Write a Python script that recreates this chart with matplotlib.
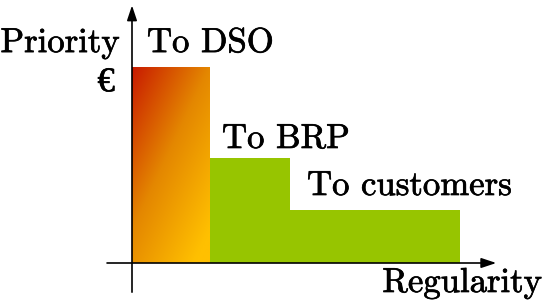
import numpy as np
import matplotlib
matplotlib.use("Agg")
import matplotlib.pyplot as plt
from matplotlib.patches import Rectangle
import matplotlib.patheffects as pe

categories = ["To DSO", "To BRP", "To customers"]
priority = [3.70, 1.98, 1.00]
regularity_width = [1.00, 1.03, 2.17]
x_label = "Regularity"
y_label = "Priority"
unit_label = "€"

green = "#97C500"

plt.rcParams['font.family'] = ['cmr10', 'DejaVu Serif']
plt.rcParams['axes.unicode_minus'] = False

fig = plt.figure(figsize=(5.5, 3.07), dpi=100)
ax = fig.add_axes([0, 0, 1, 1])
ax.set_xlim(-132 / 78, (550 - 132) / 78)
ax.set_ylim(-44 / 53, 263 / 53)
ax.axis('off')

lefts = np.concatenate([[0], np.cumsum(regularity_width)[:-1]])

# gradient bar (red top-left -> yellow-orange bottom-right)
x0, w, h = lefts[0], regularity_width[0], priority[0]
nx, ny = 200, 200
xx, yy = np.meshgrid(np.linspace(0, 1, nx), np.linspace(0, 1, ny))
t = np.clip(0.5 * xx + 0.6 * yy, 0, 1)  # row 0 is top (origin upper)
c0 = np.array([200, 25, 0]) / 255
c1 = np.array([228, 135, 0]) / 255
c2 = np.array([255, 192, 0]) / 255
img = np.zeros((ny, nx, 3))
for k in range(3):
    img[..., k] = np.interp(t, [0, 0.5, 1.0], [c0[k], c1[k], c2[k]])
im = ax.imshow(img, extent=[x0, x0 + w, 0, h], origin='upper', aspect='auto', zorder=1)
clip = Rectangle((x0, 0), w, h, transform=ax.transData, facecolor='none', edgecolor='none')
ax.add_patch(clip)
im.set_clip_path(clip)

ax.bar(lefts[1:], priority[1:], width=regularity_width[1:], align='edge',
       color=green, edgecolor='none', zorder=1)

arrow_kw = dict(arrowstyle='-|>,head_length=0.9,head_width=0.3', color='black',
                lw=1.2, shrinkA=0, shrinkB=0)
ax.annotate('', xy=(4.67, 0), xytext=(-0.32, 0), arrowprops=arrow_kw, zorder=3)
ax.annotate('', xy=(0, 4.86), xytext=(0, -0.55), arrowprops=arrow_kw, zorder=3)

fs = 25
thick = [pe.withStroke(linewidth=0.5, foreground='black')]
ax.text(-0.154, 3.98, y_label, ha='right', va='baseline', fontsize=fs, path_effects=thick)
ax.text(-0.22, 3.40, unit_label, ha='right', va='center', fontsize=fs,
        family=['Liberation Serif'], path_effects=thick)
ax.text(3.21, -0.547, x_label, ha='left', va='baseline', fontsize=fs, path_effects=thick)
label_pos = [(0.192, 3.98), (1.154, 2.17), (2.244, 1.283)]
for cat, (lx, ly) in zip(categories, label_pos):
    ax.text(lx, ly, cat, ha='left', va='baseline', fontsize=fs, path_effects=thick)

fig.savefig("out.png", dpi=100)
